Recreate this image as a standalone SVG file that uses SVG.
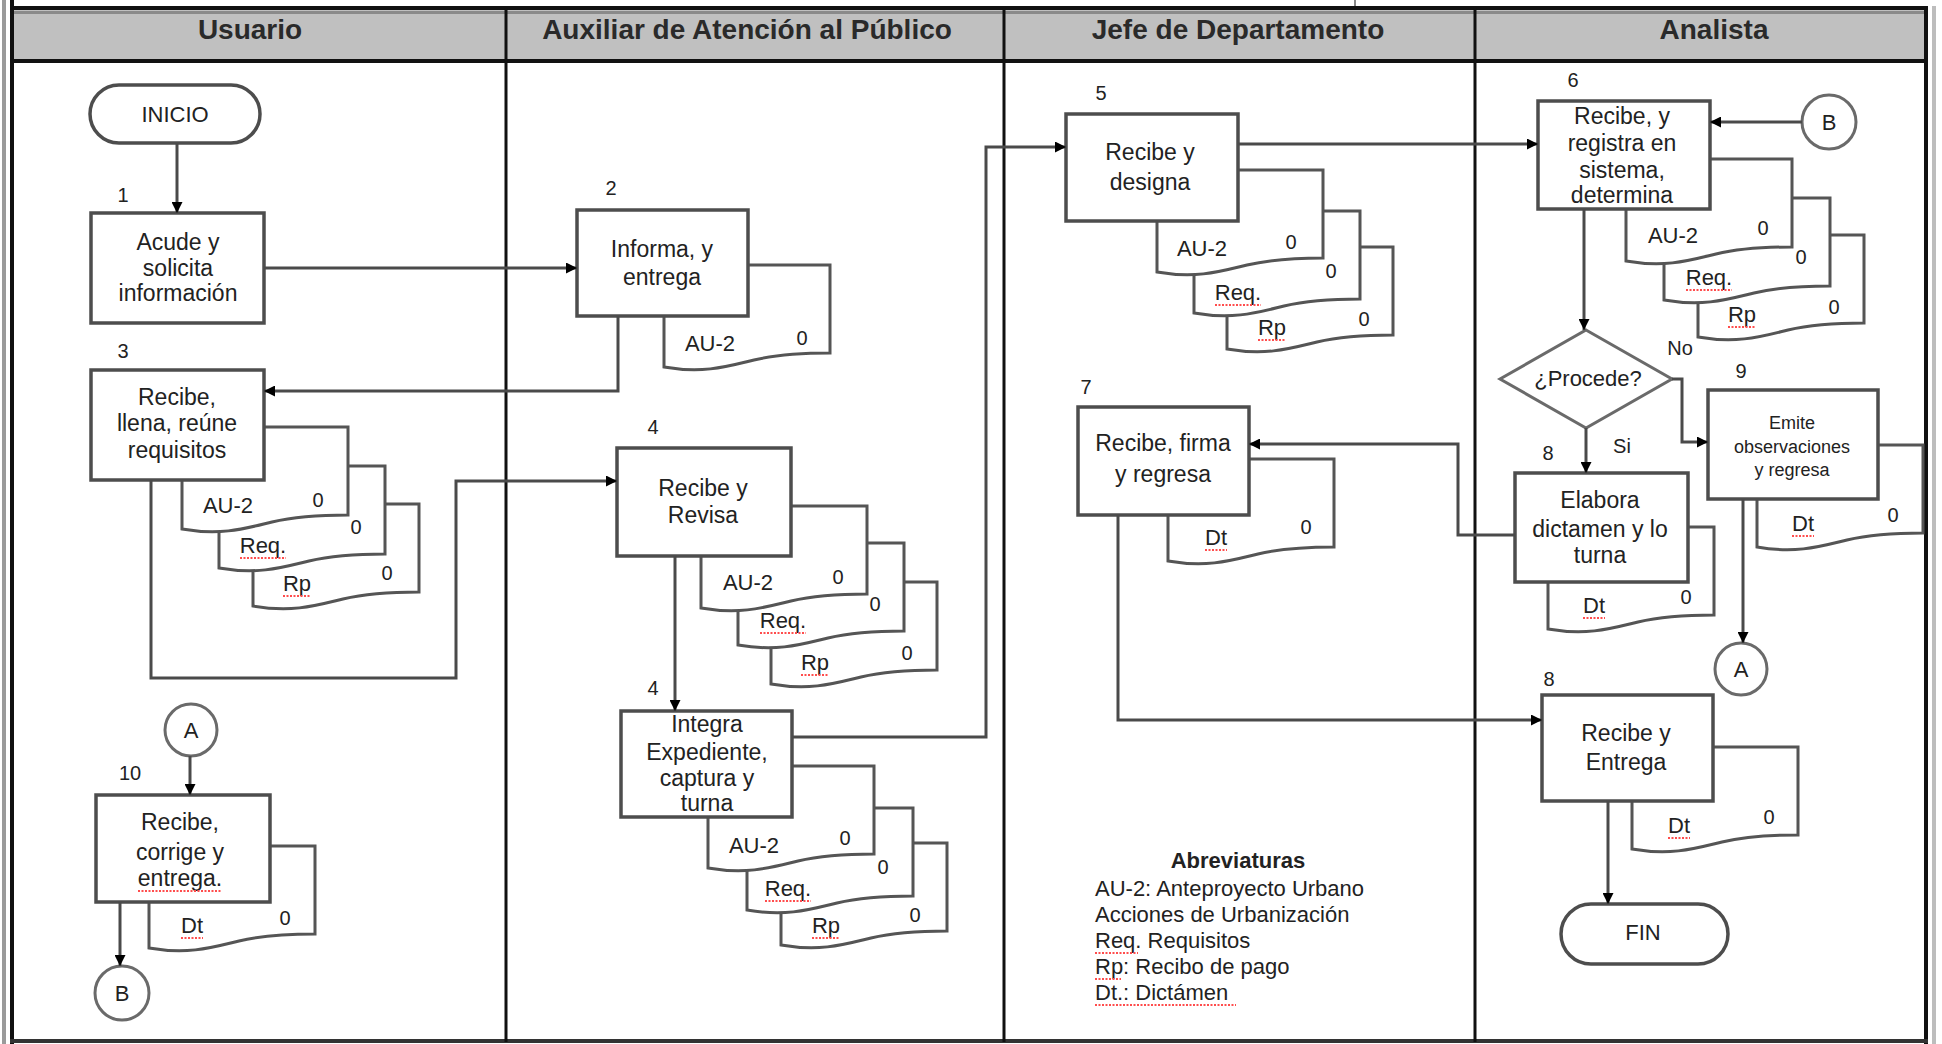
<svg xmlns="http://www.w3.org/2000/svg" width="1942" height="1044" viewBox="0 0 1942 1044">
<style>
.box{fill:#fff;stroke:#4d4d4d;stroke-width:3.5}
.doc{fill:#fff;stroke:#555;stroke-width:3}
.cir{fill:#fff;stroke:#6a6a6a;stroke-width:3}
.dia{fill:#fff;stroke:#6a6a6a;stroke-width:3}
.ln{fill:none;stroke:#4a4a4a;stroke-width:3;marker-end:url(#ah)}
.fr{stroke:#111;stroke-width:4;fill:none}
.t{font-family:"Liberation Sans",Arial,sans-serif;font-size:23px;fill:#222;text-anchor:middle;dominant-baseline:central}
.s{font-size:22px}
.n{font-size:20px}
.e{font-size:18px}
.h{font-weight:bold;font-size:28px;fill:#2a2a2a}
.l{font-size:22px;text-anchor:start}
.sq{stroke:#ff4d4d;stroke-width:2;stroke-dasharray:2 1.5;fill:none}
</style>
<defs>
<marker id="ah" viewBox="0 0 10 10" refX="10" refY="5" markerWidth="11" markerHeight="11" markerUnits="userSpaceOnUse" orient="auto">
<path d="M0,0 L10,5 L0,10 Z" fill="#000"/>
</marker>
<path id="doc" d="M0,0 H166 V88 C140,88 115,89 90,95 C65,101 40,109 0,102 Z"/>
</defs>

<g id="frame">
<rect x="14" y="10" width="1911" height="50" fill="#c0c0c0"/>
<line x1="14" y1="12.5" x2="1925" y2="12.5" stroke="#8a8a8a" stroke-width="3"/>
<line x1="1355" y1="0" x2="1355" y2="8" stroke="#888" stroke-width="2"/>
<line x1="10" y1="8" x2="1928" y2="8" class="fr"/>
<line x1="10" y1="61" x2="1928" y2="61" class="fr"/>
<line x1="12" y1="0" x2="12" y2="1044" class="fr"/>
<line x1="4" y1="0" x2="4" y2="1044" stroke="#9a9a9a" stroke-width="4"/>
<line x1="1926" y1="6" x2="1926" y2="1044" class="fr"/>
<line x1="1934" y1="6" x2="1934" y2="1044" stroke="#bdbdbd" stroke-width="4"/>
<line x1="10" y1="1041" x2="1928" y2="1041" stroke="#333" stroke-width="4"/>
<line x1="506" y1="8" x2="506" y2="1042" stroke="#111" stroke-width="3"/>
<line x1="1004" y1="8" x2="1004" y2="1042" stroke="#111" stroke-width="3"/>
<line x1="1475" y1="8" x2="1475" y2="1042" stroke="#111" stroke-width="3"/>
<text class="t h" x="250" y="29">Usuario</text>
<text class="t h" x="747" y="29">Auxiliar de Atención al Público</text>
<text class="t h" x="1238" y="29">Jefe de Departamento</text>
<text class="t h" x="1714" y="29">Analista</text>
</g>

<!-- Usuario -->
<g id="inicio">
<rect class="box" x="90" y="85" width="170" height="58" rx="29"/>
<text class="t s" x="175" y="114">INICIO</text>
</g>
<g id="n1">
<text class="t n" x="123" y="195">1</text>
<rect class="box" x="91" y="213" width="173" height="110"/>
<text class="t" x="178" y="242">Acude y</text>
<text class="t" x="178" y="268">solicita</text>
<text class="t" x="178" y="293">información</text>
</g>
<g id="n3">
<use href="#doc" class="doc" x="253" y="504"/>
<use href="#doc" class="doc" x="219" y="466"/>
<use href="#doc" class="doc" x="182" y="427"/>
<text class="t n" x="123" y="351">3</text>
<rect class="box" x="91" y="370" width="173" height="110"/>
<text class="t" x="177" y="397">Recibe,</text>
<text class="t" x="177" y="423">llena, reúne</text>
<text class="t" x="177" y="450">requisitos</text>
<text class="t s" x="228" y="505">AU-2</text>
<text class="t n" x="318" y="500">0</text>
<text class="t s" x="263" y="545">Req.</text>
<path class="sq" d="M240,558 H286"/>
<text class="t n" x="356" y="527">0</text>
<text class="t s" x="297" y="583">Rp</text>
<path class="sq" d="M283,596 H311"/>
<text class="t n" x="387" y="573">0</text>
</g>
<g id="conA1">
<circle class="cir" cx="191" cy="730" r="26"/>
<text class="t s" x="191" y="730">A</text>
</g>
<g id="n10">
<use href="#doc" class="doc" x="149" y="846"/>
<text class="t n" x="130" y="773">10</text>
<rect class="box" x="96" y="795" width="174" height="107"/>
<text class="t" x="180" y="822">Recibe,</text>
<text class="t" x="180" y="852">corrige y</text>
<text class="t" x="180" y="878">entrega.</text>
<path class="sq" d="M138,891 H222"/>
<text class="t s" x="192" y="925">Dt</text>
<path class="sq" d="M181,938 H203"/>
<text class="t n" x="285" y="918">0</text>
</g>
<g id="conB1">
<circle class="cir" cx="122" cy="993" r="27"/>
<text class="t s" x="122" y="993">B</text>
</g>

<!-- Auxiliar -->
<g id="n2">
<use href="#doc" class="doc" x="664" y="265"/>
<text class="t n" x="611" y="188">2</text>
<rect class="box" x="577" y="210" width="171" height="106"/>
<text class="t" x="662" y="249">Informa, y</text>
<text class="t" x="662" y="277">entrega</text>
<text class="t s" x="710" y="343">AU-2</text>
<text class="t n" x="802" y="338">0</text>
</g>
<g id="n4">
<use href="#doc" class="doc" x="771" y="582"/>
<use href="#doc" class="doc" x="738" y="543"/>
<use href="#doc" class="doc" x="701" y="506"/>
<text class="t n" x="653" y="427">4</text>
<rect class="box" x="617" y="448" width="174" height="108"/>
<text class="t" x="703" y="488">Recibe y</text>
<text class="t" x="703" y="515">Revisa</text>
<text class="t s" x="748" y="582">AU-2</text>
<text class="t n" x="838" y="577">0</text>
<text class="t s" x="783" y="620">Req.</text>
<path class="sq" d="M760,633 H806"/>
<text class="t n" x="875" y="604">0</text>
<text class="t s" x="815" y="662">Rp</text>
<path class="sq" d="M801,675 H829"/>
<text class="t n" x="907" y="653">0</text>
</g>
<g id="n4b">
<use href="#doc" class="doc" x="781" y="843"/>
<use href="#doc" class="doc" x="747" y="808"/>
<use href="#doc" class="doc" x="708" y="766"/>
<text class="t n" x="653" y="688">4</text>
<rect class="box" x="621" y="711" width="171" height="106"/>
<text class="t" x="707" y="724">Integra</text>
<text class="t" x="707" y="752">Expediente,</text>
<text class="t" x="707" y="778">captura y</text>
<text class="t" x="707" y="803">turna</text>
<text class="t s" x="754" y="845">AU-2</text>
<text class="t n" x="845" y="838">0</text>
<text class="t s" x="788" y="888">Req.</text>
<path class="sq" d="M765,901 H811"/>
<text class="t n" x="883" y="867">0</text>
<text class="t s" x="826" y="925">Rp</text>
<path class="sq" d="M812,938 H840"/>
<text class="t n" x="915" y="915">0</text>
</g>

<!-- Jefe -->
<g id="n5">
<use href="#doc" class="doc" x="1227" y="247"/>
<use href="#doc" class="doc" x="1194" y="211"/>
<use href="#doc" class="doc" x="1157" y="170"/>
<text class="t n" x="1101" y="93">5</text>
<rect class="box" x="1066" y="114" width="172" height="107"/>
<text class="t" x="1150" y="152">Recibe y</text>
<text class="t" x="1150" y="182">designa</text>
<text class="t s" x="1202" y="248">AU-2</text>
<text class="t n" x="1291" y="242">0</text>
<text class="t s" x="1238" y="292">Req.</text>
<path class="sq" d="M1215,305 H1261"/>
<text class="t n" x="1331" y="271">0</text>
<text class="t s" x="1272" y="327">Rp</text>
<path class="sq" d="M1258,340 H1286"/>
<text class="t n" x="1364" y="319">0</text>
</g>
<g id="n7">
<use href="#doc" class="doc" x="1168" y="459"/>
<text class="t n" x="1086" y="387">7</text>
<rect class="box" x="1078" y="407" width="171" height="108"/>
<text class="t" x="1163" y="443">Recibe, firma</text>
<text class="t" x="1163" y="474">y regresa</text>
<text class="t s" x="1216" y="537">Dt</text>
<path class="sq" d="M1205,550 H1227"/>
<text class="t n" x="1306" y="527">0</text>
</g>
<g id="legend">
<text class="t s" x="1238" y="860" font-weight="bold">Abreviaturas</text>
<text class="t l" x="1095" y="888">AU-2: Anteproyecto Urbano</text>
<text class="t l" x="1095" y="914">Acciones de Urbanización</text>
<text class="t l" x="1095" y="940">Req. Requisitos</text>
<path class="sq" d="M1095,953 H1138"/>
<text class="t l" x="1095" y="966">Rp: Recibo de pago</text>
<path class="sq" d="M1095,979 H1121"/>
<text class="t l" x="1095" y="992">Dt.: Dictámen</text>
<path class="sq" d="M1095,1005 H1236"/>
</g>

<!-- Analista -->
<g id="n6">
<use href="#doc" class="doc" x="1698" y="235"/>
<use href="#doc" class="doc" x="1664" y="198"/>
<use href="#doc" class="doc" x="1626" y="159"/>
<text class="t n" x="1573" y="80">6</text>
<rect class="box" x="1538" y="101" width="172" height="108"/>
<text class="t" x="1622" y="116">Recibe, y</text>
<text class="t" x="1622" y="143">registra en</text>
<text class="t" x="1622" y="170">sistema,</text>
<text class="t" x="1622" y="195">determina</text>
<text class="t s" x="1673" y="235">AU-2</text>
<text class="t n" x="1763" y="228">0</text>
<text class="t s" x="1709" y="277">Req.</text>
<path class="sq" d="M1686,290 H1732"/>
<text class="t n" x="1801" y="257">0</text>
<text class="t s" x="1742" y="314">Rp</text>
<path class="sq" d="M1728,327 H1756"/>
<text class="t n" x="1834" y="307">0</text>
</g>
<g id="conB2">
<circle class="cir" cx="1829" cy="122" r="27"/>
<text class="t s" x="1829" y="122">B</text>
</g>
<g id="decision">
<polygon class="dia" points="1586,330 1672,379 1586,428 1500,379"/>
<text class="t s" x="1588" y="378">¿Procede?</text>
<text class="t n" x="1680" y="348">No</text>
<text class="t n" x="1622" y="446">Si</text>
</g>
<g id="n9">
<use href="#doc" class="doc" x="1757" y="445"/>
<text class="t n" x="1741" y="371">9</text>
<rect class="box" x="1708" y="390" width="170" height="109"/>
<text class="t e" x="1792" y="423">Emite</text>
<text class="t e" x="1792" y="447">observaciones</text>
<text class="t e" x="1792" y="470">y regresa</text>
<text class="t s" x="1803" y="523">Dt</text>
<path class="sq" d="M1792,536 H1814"/>
<text class="t n" x="1893" y="515">0</text>
</g>
<g id="n8a">
<use href="#doc" class="doc" x="1548" y="527"/>
<text class="t n" x="1548" y="453">8</text>
<rect class="box" x="1515" y="473" width="173" height="109"/>
<text class="t" x="1600" y="500">Elabora</text>
<text class="t" x="1600" y="529">dictamen y lo</text>
<text class="t" x="1600" y="555">turna</text>
<text class="t s" x="1594" y="605">Dt</text>
<path class="sq" d="M1583,618 H1605"/>
<text class="t n" x="1686" y="597">0</text>
</g>
<g id="conA2">
<circle class="cir" cx="1741" cy="669" r="26"/>
<text class="t s" x="1741" y="669">A</text>
</g>
<g id="n8b">
<use href="#doc" class="doc" x="1632" y="747"/>
<text class="t n" x="1549" y="679">8</text>
<rect class="box" x="1542" y="695" width="171" height="106"/>
<text class="t" x="1626" y="733">Recibe y</text>
<text class="t" x="1626" y="762">Entrega</text>
<text class="t s" x="1679" y="825">Dt</text>
<path class="sq" d="M1668,838 H1690"/>
<text class="t n" x="1769" y="817">0</text>
</g>
<g id="fin">
<rect class="box" x="1561" y="904" width="167" height="60" rx="30"/>
<text class="t s" x="1643" y="932">FIN</text>
</g>

<g id="connectors">
<path class="ln" d="M177,143 V213"/>
<path class="ln" d="M264,268 H577"/>
<path class="ln" d="M618,316 V391 H264"/>
<path class="ln" d="M151,480 V678 H456 V481 H617"/>
<path class="ln" d="M675,556 V711"/>
<path class="ln" d="M792,737 H986 V147 H1066"/>
<path class="ln" d="M1238,144 H1538"/>
<path class="ln" d="M1802,122 H1710"/>
<path class="ln" d="M1584,209 V330"/>
<path class="ln" d="M1672,379 H1682 V442 H1708"/>
<path class="ln" d="M1586,428 V473"/>
<path class="ln" d="M1515,535 H1458 V444 H1249"/>
<path class="ln" d="M1743,499 V643"/>
<path class="ln" d="M1118,515 V720 H1542"/>
<path class="ln" d="M1608,801 V904"/>
<path class="ln" d="M190,756 V795"/>
<path class="ln" d="M120,902 V966"/>
</g>
</svg>
